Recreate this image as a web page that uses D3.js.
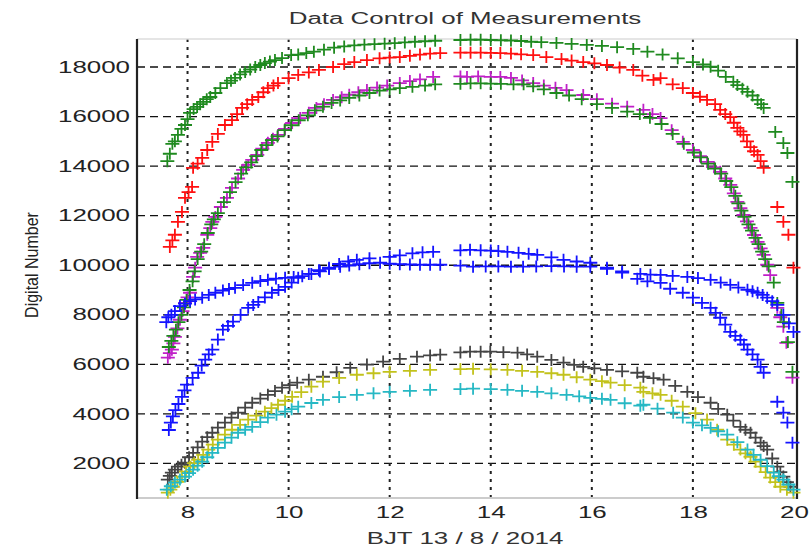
<!DOCTYPE html>
<html>
<head>
<meta charset="utf-8">
<script src="https://cdn.jsdelivr.net/npm/d3@7"></script>
<style>
  body { margin: 0; background: #fff; }
  text { font-family: "Liberation Sans", Arial, sans-serif; }
</style>
</head>
<body>
<div id="chart"></div>
<script>
// readings from the picture: [hour, digital number]
const greenTop = [[7.6,14200],[7.65,14500],[7.7,14900],[7.75,15000],[7.81,15260],[7.88,15500],[7.95,15660],[8.0,15900],[8.05,16150],[8.12,16300],[8.19,16390],[8.25,16500],[8.31,16590],[8.38,16700],[8.45,16790],[8.55,16950],[8.65,17150],[8.78,17350],[8.86,17450],[8.94,17560],[9.04,17700],[9.14,17800],[9.24,17900],[9.34,18000],[9.44,18080],[9.53,18160],[9.63,18220],[9.73,18280],[9.87,18360],[10.05,18480],[10.19,18500],[10.35,18560],[10.5,18620],[10.7,18700],[10.9,18780],[11.1,18830],[11.3,18870],[11.5,18900],[11.7,18920],[11.9,18940],[12.1,18960],[12.3,18990],[12.5,19020],[12.7,19040],[12.9,19060],[13.4,19090],[13.6,19100],[13.8,19100],[14.0,19090],[14.2,19080],[14.4,19070],[14.6,19050],[14.8,19020],[15.0,19000],[15.3,18970],[15.6,18930],[15.9,18890],[16.2,18850],[16.5,18800],[16.82,18730],[17.1,18620],[17.4,18500],[17.7,18350],[18.0,18200],[18.2,18100],[18.35,18010],[18.5,17850],[18.65,17600],[18.8,17400],[18.88,17270],[18.98,17120],[19.08,17000],[19.18,16850],[19.28,16670],[19.35,16500],[19.4,16350],[19.63,15380],[19.79,14930],[19.87,14530],[19.97,13360]];
const red = [[7.65,10740],[7.7,11000],[7.75,11230],[7.81,11750],[7.89,12150],[7.95,12720],[8.02,12950],[8.09,13160],[8.11,13930],[8.2,14100],[8.29,14330],[8.39,14650],[8.49,14980],[8.6,15300],[8.74,15660],[8.88,15860],[8.98,16100],[9.08,16350],[9.18,16500],[9.28,16670],[9.4,16790],[9.5,16980],[9.59,17150],[9.7,17250],[9.79,17350],[10.0,17550],[10.19,17680],[10.4,17780],[10.6,17880],[10.88,18000],[11.1,18120],[11.3,18200],[11.55,18280],[11.8,18350],[12.0,18380],[12.2,18400],[12.4,18450],[12.6,18500],[12.8,18540],[13.0,18560],[13.4,18580],[13.6,18580],[13.8,18580],[14.0,18570],[14.19,18560],[14.4,18540],[14.6,18510],[14.84,18480],[15.1,18400],[15.4,18320],[15.6,18260],[15.83,18200],[16.05,18150],[16.3,18080],[16.55,17980],[16.82,17880],[17.0,17650],[17.22,17480],[17.36,17550],[17.6,17300],[17.8,17150],[18.0,16950],[18.14,16800],[18.28,16670],[18.44,16500],[18.54,16270],[18.64,16100],[18.74,15980],[18.81,15750],[18.88,15540],[18.94,15400],[19.0,15260],[19.07,15000],[19.14,14770],[19.21,14600],[19.28,14450],[19.34,14200],[19.4,13930],[19.67,12350],[19.79,11750],[19.89,11230],[19.99,9900]];
const magenta = [[7.61,6270],[7.65,6450],[7.69,6590],[7.72,6850],[7.75,7110],[7.8,7450],[7.85,7800],[7.9,8150],[7.95,8480],[8.0,8700],[8.05,8890],[8.11,9530],[8.15,9900],[8.19,10340],[8.25,10500],[8.31,10700],[8.39,11230],[8.45,11500],[8.49,11750],[8.55,11950],[8.66,12350],[8.78,12720],[8.88,13120],[9.0,13500],[9.1,13850],[9.2,14050],[9.28,14250],[9.38,14450],[9.48,14700],[9.59,14940],[9.69,15100],[9.79,15260],[9.93,15500],[10.07,15740],[10.23,15940],[10.4,16150],[10.55,16350],[10.7,16500],[10.88,16670],[11.05,16780],[11.2,16880],[11.38,16980],[11.55,17070],[11.75,17170],[11.95,17250],[12.2,17350],[12.4,17430],[12.6,17500],[12.86,17600],[13.4,17620],[13.53,17600],[13.75,17620],[14.0,17600],[14.19,17600],[14.4,17560],[14.62,17460],[14.84,17350],[15.05,17250],[15.28,17160],[15.5,17070],[15.83,16870],[16.1,16700],[16.4,16520],[16.7,16400],[17.02,16270],[17.2,16100],[17.36,15940],[17.58,15450],[17.8,14980],[18.0,14650],[18.14,14400],[18.28,14170],[18.42,13950],[18.54,13770],[18.64,13500],[18.74,13240],[18.81,12900],[18.88,12560],[18.94,12300],[19.0,12030],[19.07,11770],[19.14,11510],[19.21,11220],[19.28,10940],[19.34,10680],[19.4,10420],[19.47,10020],[19.53,9600],[19.67,8280],[19.73,7900],[19.79,7520],[19.85,6870],[19.97,5460]];
const greenLow = [[7.63,6700],[7.68,6950],[7.72,7150],[7.77,7400],[7.82,7700],[7.88,8000],[7.93,8300],[7.98,8600],[8.04,9000],[8.1,9350],[8.14,9750],[8.2,10250],[8.27,10550],[8.33,10850],[8.4,11300],[8.47,11650],[8.52,11850],[8.6,12100],[8.72,12550],[8.84,12950],[8.95,13350],[9.06,13700],[9.16,13950],[9.26,14150],[9.36,14400],[9.46,14650],[9.56,14850],[9.67,15050],[9.78,15200],[9.92,15450],[10.05,15650],[10.2,15850],[10.38,16050],[10.52,16250],[10.68,16400],[10.85,16550],[11.02,16650],[11.2,16750],[11.4,16850],[11.6,16950],[11.8,17050],[12.0,17100],[12.2,17150],[12.45,17200],[12.7,17250],[12.9,17300],[13.4,17320],[13.6,17340],[13.8,17340],[14.0,17330],[14.2,17320],[14.45,17300],[14.65,17300],[14.84,17220],[15.05,17100],[15.3,16950],[15.55,16850],[15.8,16700],[16.1,16500],[16.4,16350],[16.7,16200],[16.95,16100],[17.15,15950],[17.38,15700],[17.6,15300],[17.82,14900],[18.02,14550],[18.16,14350],[18.3,14100],[18.44,13900],[18.56,13700],[18.66,13400],[18.76,13150],[18.84,12800],[18.9,12500],[18.96,12200],[19.02,11950],[19.1,11650],[19.17,11400],[19.24,11100],[19.3,10850],[19.37,10550],[19.43,10250],[19.5,9950],[19.6,9300],[19.67,8480],[19.75,8000],[19.8,7700],[19.88,6900],[19.97,5700]];
const blueA = [[7.58,7700],[7.62,7900],[7.68,8000],[7.75,8150],[7.85,8350],[7.95,8450],[8.05,8550],[8.15,8620],[8.29,8690],[8.42,8800],[8.55,8890],[8.7,8980],[8.82,9040],[8.94,9090],[9.1,9200],[9.28,9290],[9.44,9360],[9.59,9410],[9.75,9460],[9.93,9490],[10.1,9520],[10.27,9560],[10.45,9650],[10.62,9750],[10.8,9850],[11.02,9940],[11.2,9990],[11.4,10040],[11.6,10080],[11.81,10100],[12.0,10060],[12.2,10040],[12.4,10030],[12.6,10020],[12.8,10020],[13.0,10020],[13.4,9980],[13.65,9940],[13.9,9950],[14.15,9950],[14.4,9940],[14.64,9940],[14.9,9950],[15.2,9960],[15.45,9950],[15.7,9940],[15.97,9940],[16.3,9850],[16.6,9750],[16.96,9650],[17.16,9620],[17.36,9610],[17.6,9570],[17.89,9530],[18.1,9480],[18.35,9410],[18.55,9300],[18.74,9210],[18.9,9100],[19.08,9010],[19.18,8950],[19.28,8890],[19.38,8800],[19.47,8690],[19.57,8550],[19.67,8400],[19.79,8000],[19.9,7650],[19.99,7310]];
const blueB = [[7.63,3350],[7.67,3650],[7.71,3900],[7.76,4150],[7.82,4400],[7.89,4690],[7.94,4950],[7.99,5180],[8.1,5450],[8.21,5660],[8.28,5950],[8.35,6190],[8.42,6400],[8.49,6590],[8.6,7000],[8.7,7400],[8.8,7550],[8.9,7720],[9.05,8000],[9.2,8280],[9.3,8400],[9.4,8520],[9.53,8700],[9.67,8890],[9.8,9000],[9.93,9130],[10.06,9300],[10.19,9490],[10.4,9650],[10.6,9800],[10.8,9900],[11.0,10050],[11.18,10150],[11.35,10220],[11.6,10280],[12.0,10340],[12.2,10400],[12.45,10480],[12.65,10520],[12.86,10540],[13.4,10600],[13.59,10620],[13.8,10600],[14.0,10590],[14.15,10570],[14.33,10540],[14.55,10500],[14.75,10460],[14.92,10420],[15.2,10320],[15.44,10220],[15.7,10150],[15.97,10100],[16.3,9900],[16.6,9700],[16.9,9450],[17.1,9350],[17.36,9290],[17.55,9050],[17.8,8890],[18.0,8690],[18.18,8480],[18.35,8280],[18.45,8080],[18.54,7880],[18.64,7600],[18.74,7310],[18.84,7150],[18.94,6990],[19.01,6800],[19.08,6590],[19.18,6400],[19.28,6190],[19.34,5900],[19.4,5660],[19.67,4490],[19.79,4050],[19.87,3650],[19.97,2840]];
const gray = [[7.61,1350],[7.65,1500],[7.69,1630],[7.75,1750],[7.81,1870],[7.88,1950],[7.95,2030],[8.03,2250],[8.11,2430],[8.2,2650],[8.29,2880],[8.39,3060],[8.49,3240],[8.6,3450],[8.74,3650],[8.87,3850],[9.0,4050],[9.14,4250],[9.28,4450],[9.44,4620],[9.59,4770],[9.73,4920],[9.87,5060],[10.02,5160],[10.17,5260],[10.4,5380],[10.68,5500],[10.95,5680],[11.22,5860],[11.55,5990],[11.87,6110],[12.2,6220],[12.54,6310],[12.8,6360],[13.0,6390],[13.4,6480],[13.59,6510],[13.8,6510],[13.99,6510],[14.25,6490],[14.53,6470],[14.72,6400],[14.92,6310],[15.2,6180],[15.44,6070],[15.65,5980],[15.83,5900],[16.05,5840],[16.3,5780],[16.6,5720],[16.9,5660],[17.02,5500],[17.22,5440],[17.42,5380],[17.65,5130],[17.89,4890],[18.1,4680],[18.35,4450],[18.5,4200],[18.68,3970],[18.8,3730],[18.94,3480],[19.04,3360],[19.14,3240],[19.24,3040],[19.34,2840],[19.4,2700],[19.47,2560],[19.57,2200],[19.67,1870],[19.73,1650],[19.79,1470],[19.86,1250],[19.93,1060]];
const olive = [[7.61,820],[7.66,940],[7.71,1060],[7.8,1260],[7.89,1470],[7.97,1670],[8.05,1870],[8.13,2010],[8.21,2150],[8.31,2350],[8.41,2560],[8.5,2760],[8.6,2960],[8.74,3160],[8.88,3360],[9.04,3560],[9.2,3770],[9.36,3930],[9.53,4090],[9.66,4230],[9.79,4370],[9.93,4530],[10.07,4690],[10.25,4880],[10.45,5100],[10.68,5300],[11.0,5450],[11.35,5580],[11.68,5640],[12.0,5700],[12.4,5740],[12.8,5780],[13.4,5810],[13.65,5820],[14.0,5800],[14.33,5780],[14.62,5740],[14.92,5700],[15.2,5640],[15.44,5580],[15.7,5480],[15.97,5380],[16.2,5320],[16.37,5260],[16.65,5160],[16.96,5060],[17.02,4890],[17.2,4830],[17.36,4770],[17.58,4530],[17.8,4290],[18.05,4030],[18.28,3770],[18.48,3360],[18.68,2960],[18.81,2760],[18.94,2560],[19.04,2410],[19.14,2270],[19.24,2070],[19.34,1870],[19.44,1650],[19.53,1430],[19.63,1250],[19.73,1060],[19.86,940],[19.99,820]];
const cyan = [[7.59,940],[7.67,1080],[7.75,1230],[7.85,1350],[7.95,1470],[8.03,1610],[8.11,1750],[8.2,1910],[8.29,2070],[8.39,2250],[8.49,2430],[8.6,2630],[8.74,2840],[8.87,3040],[9.0,3240],[9.14,3360],[9.28,3480],[9.44,3670],[9.59,3850],[9.76,3970],[9.93,4090],[10.06,4190],[10.19,4290],[10.45,4440],[10.68,4570],[11.0,4680],[11.35,4770],[11.68,4830],[12.0,4890],[12.4,4930],[12.8,4970],[13.4,5000],[13.65,5020],[14.0,5000],[14.33,4970],[14.62,4930],[14.92,4890],[15.2,4830],[15.5,4770],[15.75,4710],[15.97,4650],[16.2,4610],[16.37,4570],[16.65,4430],[16.96,4330],[17.02,4370],[17.3,4210],[17.61,4050],[17.8,3850],[18.0,3650],[18.18,3540],[18.35,3440],[18.5,3300],[18.68,3160],[18.88,2860],[19.08,2560],[19.2,2350],[19.34,2150],[19.47,1890],[19.6,1630],[19.7,1490],[19.79,1350],[19.89,1150],[19.99,940]];

const xTicks = [8, 10, 12, 14, 16, 18, 20];
const yTicks = [2000, 4000, 6000, 8000, 10000, 12000, 14000, 16000, 18000];

// series in drawing order with their marker colours
const series = [
  { data: greenTop, color: "#1f8a1f" },
  { data: red, color: "#ff1010" },
  { data: magenta, color: "#c020c8" },
  { data: greenLow, color: "#1f8a1f" },
  { data: blueA, color: "#1414ff" },
  { data: blueB, color: "#1414ff" },
  { data: gray, color: "#444444" },
  { data: olive, color: "#c2c21c" },
  { data: cyan, color: "#26b8c4" }
];

// the original picture is stretched sideways, so text gets stretched too
const stretch = 1.62;

const width = 812;
const height = 548;
const plot = { left: 137, right: 797, top: 39, bottom: 498 };

const svg = d3.select("#chart")
  .append("svg")
  .attr("width", width)
  .attr("height", height);

const x = d3.scaleLinear().domain([7, 20.06]).range([plot.left, plot.right]);
const y = d3.scaleLinear().domain([606, 19130]).range([plot.bottom, plot.top]);

// grid lines
svg.selectAll(".hgrid")
  .data(yTicks)
  .enter()
  .append("line")
  .attr("x1", plot.left)
  .attr("x2", plot.right)
  .attr("y1", d => y(d))
  .attr("y2", d => y(d))
  .style("stroke", "#111")
  .style("stroke-width", 1.3)
  .style("stroke-dasharray", "8,5");

svg.selectAll(".vgrid")
  .data(xTicks.filter(d => d < 20))
  .enter()
  .append("line")
  .attr("x1", d => x(d))
  .attr("x2", d => x(d))
  .attr("y1", plot.top)
  .attr("y2", plot.bottom)
  .style("stroke", "#222")
  .style("stroke-width", 2)
  .style("stroke-dasharray", "3,5");

// frame: grey top and bottom, black sides
svg.append("line")
  .attr("x1", plot.left).attr("x2", plot.right)
  .attr("y1", plot.top).attr("y2", plot.top)
  .style("stroke", "#ddd").style("stroke-width", 1.5);
svg.append("line")
  .attr("x1", plot.left).attr("x2", plot.right)
  .attr("y1", plot.bottom).attr("y2", plot.bottom)
  .style("stroke", "#ccc").style("stroke-width", 2);
svg.append("line")
  .attr("x1", plot.left).attr("x2", plot.left)
  .attr("y1", plot.top).attr("y2", plot.bottom + 1)
  .style("stroke", "#222").style("stroke-width", 2.2);
svg.append("line")
  .attr("x1", plot.right).attr("x2", plot.right)
  .attr("y1", plot.top).attr("y2", plot.bottom + 1)
  .style("stroke", "#222").style("stroke-width", 2.2);

// plus markers
const plus = "M-7,0H7M0,-6V6";
series.forEach(function(s) {
  svg.append("g")
    .selectAll("path")
    .data(s.data)
    .enter()
    .append("path")
    .attr("d", plus)
    .attr("transform", d => "translate(" + x(d[0]) + "," + y(d[1]) + ")")
    .style("fill", "none")
    .style("stroke", s.color)
    .style("stroke-width", 1.8);
});

// axes, only for the labels
const yAxis = svg.append("g")
  .attr("transform", "translate(" + plot.left + ",0)")
  .call(d3.axisLeft(y).tickValues(yTicks).tickSize(0).tickPadding(7).tickFormat(d3.format("d")));
yAxis.select(".domain").remove();
yAxis.selectAll("text")
  .attr("x", -7 / stretch)
  .attr("transform", "scale(" + stretch + ",1)")
  .style("font-size", "16px")
  .style("fill", "#222");

const xAxis = svg.append("g")
  .attr("transform", "translate(0," + plot.bottom + ")")
  .call(d3.axisBottom(x).tickValues(xTicks).tickSize(0).tickPadding(9).tickFormat(d3.format("d")));
xAxis.select(".domain").remove();
xAxis.selectAll("text")
  .attr("transform", "scale(" + stretch + ",1)")
  .style("font-size", "16px")
  .style("fill", "#222");

// titles
svg.append("text")
  .attr("transform", "translate(465,24) scale(" + stretch + ",1)")
  .style("text-anchor", "middle")
  .style("font-size", "16px")
  .style("fill", "#333")
  .text("Data Control of Measurements");

svg.append("text")
  .attr("transform", "translate(465,544) scale(" + stretch + ",1)")
  .style("text-anchor", "middle")
  .style("font-size", "16px")
  .style("fill", "#333")
  .text("BJT 13 / 8 / 2014");

svg.append("text")
  .attr("transform", "translate(38,265) scale(1.15,1) rotate(-90)")
  .style("text-anchor", "middle")
  .style("font-size", "16px")
  .style("fill", "#222")
  .text("Digital Number");
</script>
</body>
</html>
